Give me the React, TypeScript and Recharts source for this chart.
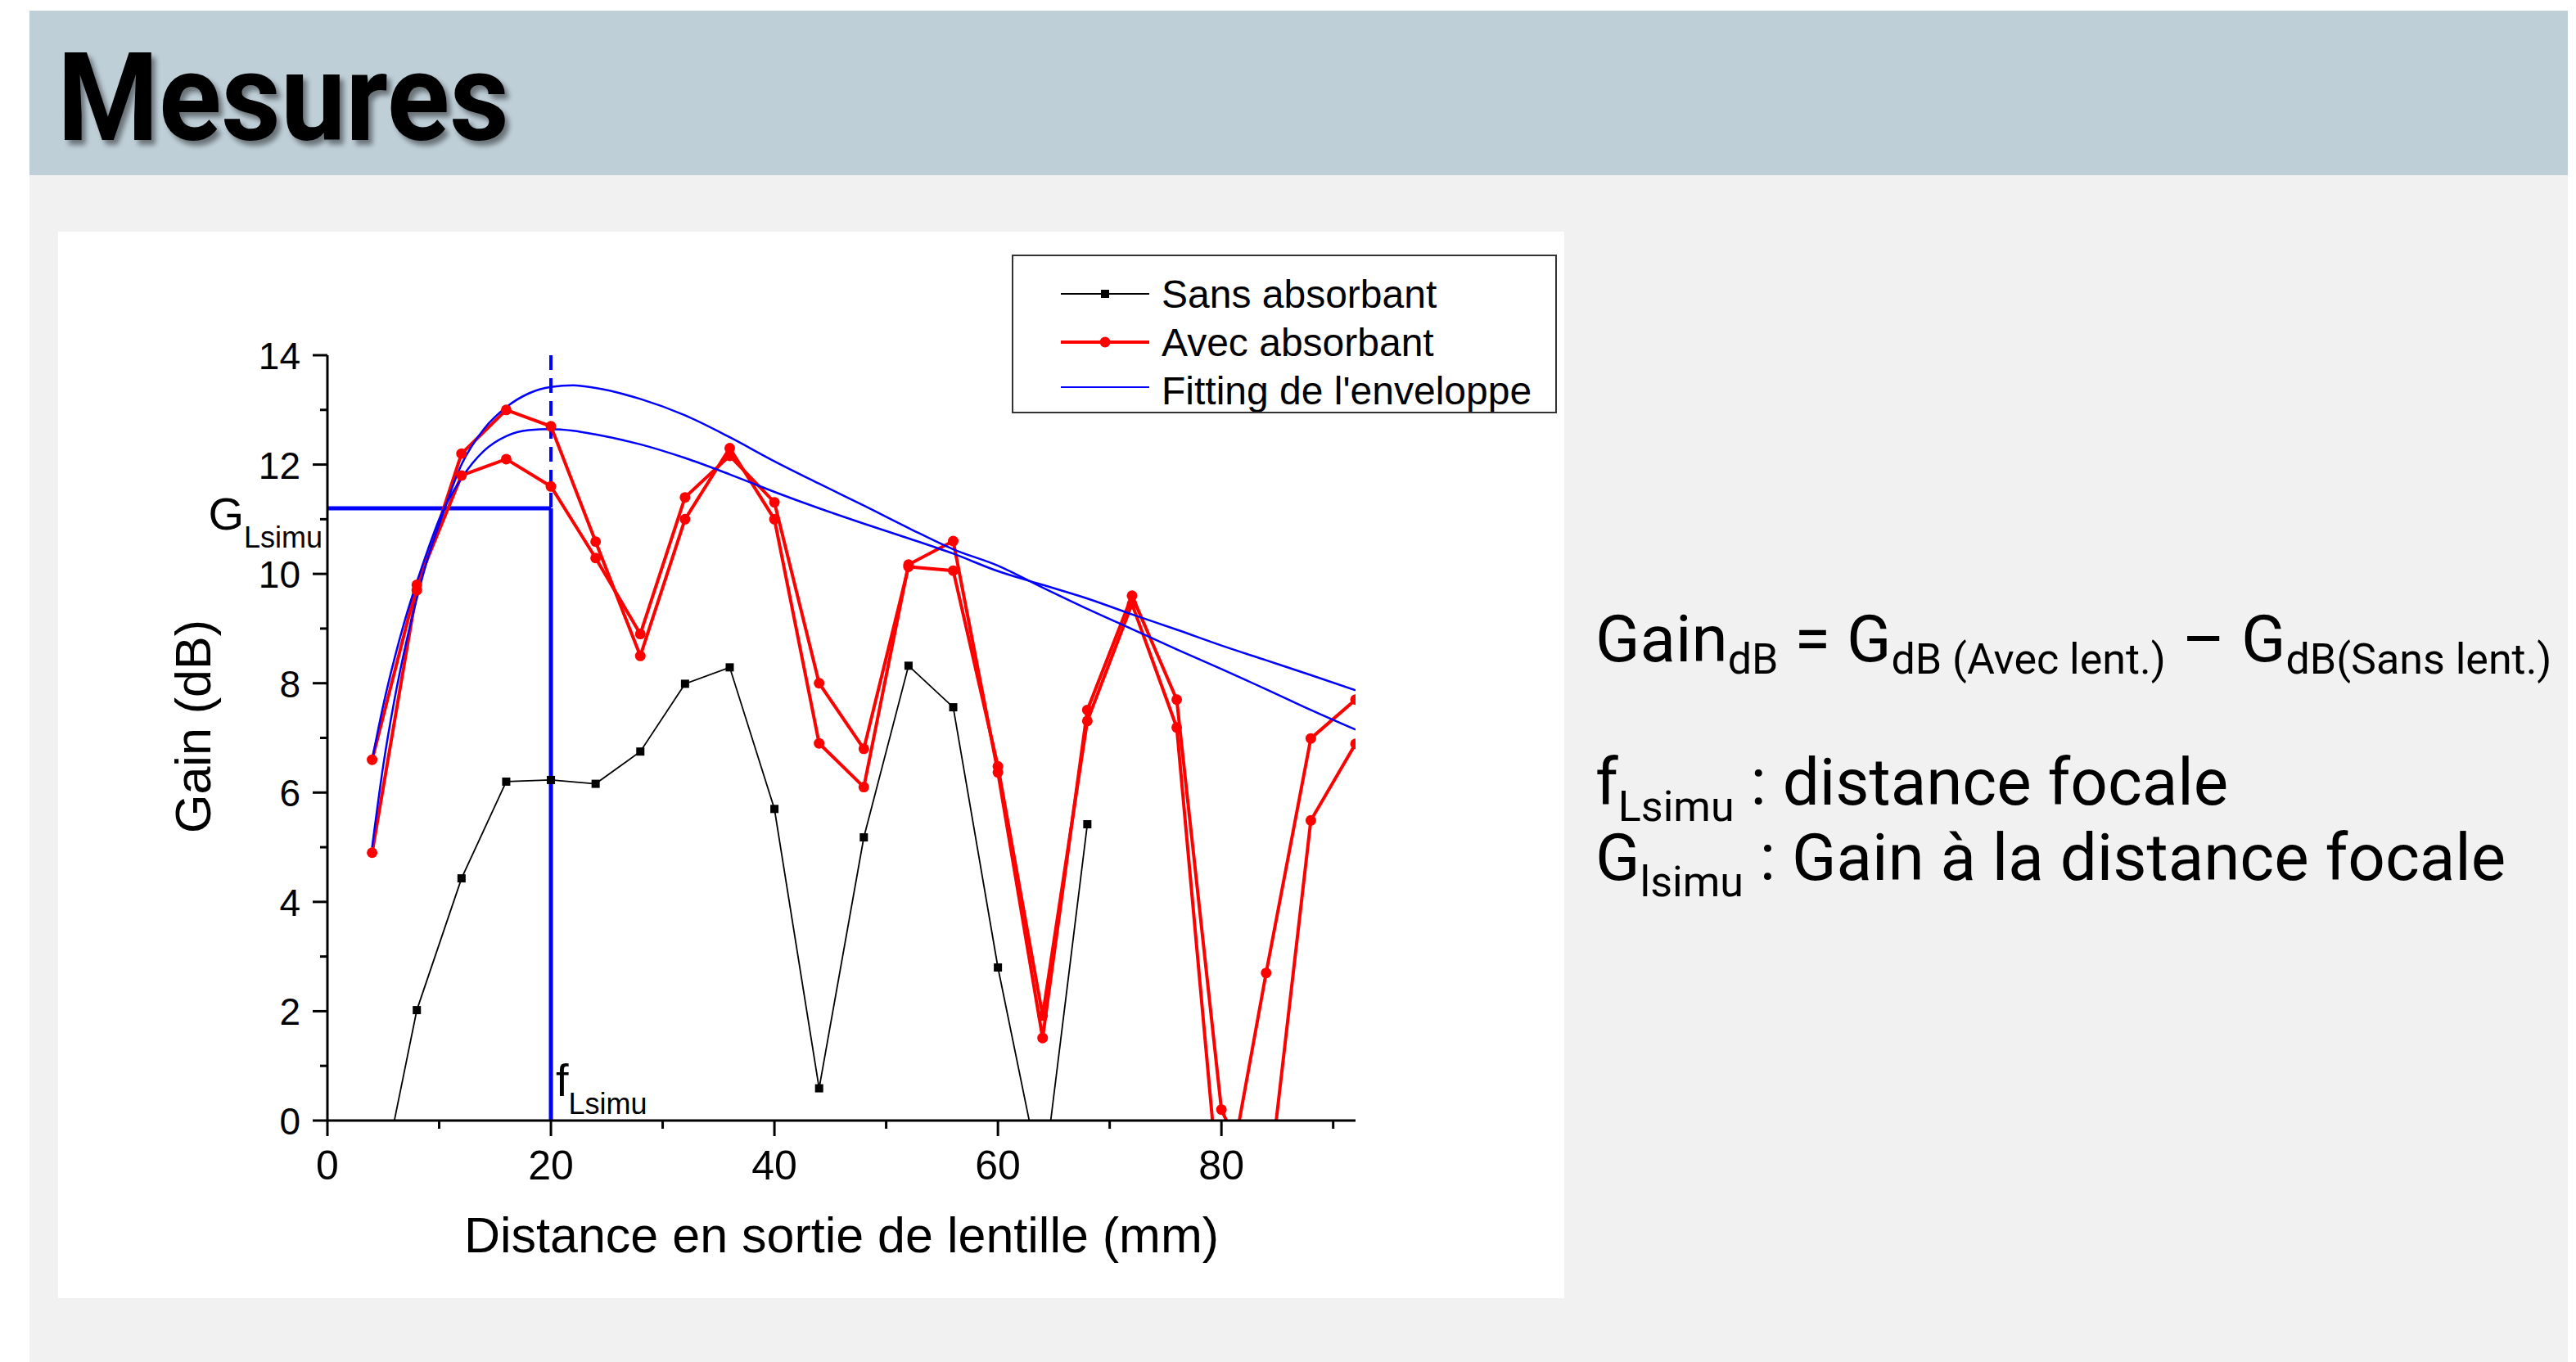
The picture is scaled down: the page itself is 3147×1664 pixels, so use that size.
import React from 'react';
import { LineChart, Line, XAxis, YAxis, ReferenceLine } from 'recharts';

// measured points (mm)
const distances = [4, 8, 12, 16, 20, 24, 28, 32, 36, 40, 44, 48, 52, 56, 60, 64, 68, 72, 76, 80, 84, 88, 92];
const sansAbsorbant = [-2.0, 2.02, 4.43, 6.2, 6.23, 6.16, 6.75, 7.99, 8.29, 5.7, 0.59, 5.18, 8.32, 7.56, 2.8, -1.2, 5.42, null, null, null, null, null, null];
const avecAbsorbant1 = [4.9, 9.7, 12.2, 13.0, 12.7, 10.59, 8.5, 11.0, 12.3, 11.0, 6.9, 6.1, 10.17, 10.6, 6.37, 1.51, 7.51, 9.6, 7.7, 0.2, -1.6, 5.49, 6.89];
const avecAbsorbant2 = [6.6, 9.8, 11.8, 12.1, 11.6, 10.29, 8.9, 11.4, 12.16, 11.31, 8.0, 6.8, 10.13, 10.06, 6.48, 1.92, 7.31, 9.45, 7.19, -1.8, 2.7, 6.99, 7.7];

// envelope fits
const fitDistances = [4, 5, 6, 7, 8, 9, 10, 12, 14, 16, 18, 20, 22, 24, 28, 32, 36, 40, 44, 48, 52, 56, 60, 64, 68, 72, 76, 80, 84, 88, 92];
const fitUpper = [5.0, 6.5, 7.7, 8.7, 9.55, 10.3, 10.9, 12.0, 12.65, 13.05, 13.3, 13.42, 13.45, 13.4, 13.2, 12.9, 12.5, 12.06, 11.65, 11.25, 10.84, 10.45, 10.15, 9.75, 9.36, 8.99, 8.62, 8.26, 7.89, 7.51, 7.15];
const fitLower = [6.6, 7.6, 8.45, 9.2, 9.85, 10.45, 11.0, 11.75, 12.25, 12.52, 12.63, 12.65, 12.62, 12.55, 12.37, 12.12, 11.82, 11.5, 11.2, 10.92, 10.65, 10.37, 10.05, 9.8, 9.55, 9.26, 8.98, 8.69, 8.42, 8.15, 7.87];

const xTicks = [0, 10, 20, 30, 40, 50, 60, 70, 80, 90];
const yTicks = [0, 1, 2, 3, 4, 5, 6, 7, 8, 9, 10, 11, 12, 13, 14];
const focalDistance = 20;
const focalGain = 11.2;

const legendItems = ['Sans absorbant', 'Avec absorbant', "Fitting de l'enveloppe"];

const allX = Array.from(new Set([...distances, ...fitDistances])).sort((a, b) => a - b);
const table = allX.map((x) => {
  const i = distances.indexOf(x);
  const j = fitDistances.indexOf(x);
  return {
    x,
    sans: i >= 0 ? sansAbsorbant[i] : null,
    avec1: i >= 0 ? avecAbsorbant1[i] : null,
    avec2: i >= 0 ? avecAbsorbant2[i] : null,
    fitU: j >= 0 ? fitUpper[j] : null,
    fitL: j >= 0 ? fitLower[j] : null,
  };
});

const FONT = '"Liberation Sans", Arial, sans-serif';
const RED = '#ff0000';
const BLUE = '#0000ff';

const square = (p: any) => {
  if (p.cx == null || p.cy == null || p.value == null) return <g key={p.key} />;
  return <rect key={p.key} x={p.cx - 5} y={p.cy - 5} width={10} height={10} fill="#000" />;
};

const circle = (p: any) => {
  if (p.cx == null || p.cy == null || p.value == null) return <g key={p.key} />;
  return <circle key={p.key} cx={p.cx} cy={p.cy} r={6.5} fill={RED} />;
};

const xTick = (p: any) => {
  const major = p.payload.value % 20 === 0;
  return (
    <g>
      <line x1={p.x} x2={p.x} y1={p.y} y2={p.y + (major ? 19 : 10)} stroke="#000" strokeWidth={3} />
      {major && (
        <text x={p.x} y={p.y + 72} textAnchor="middle" fontSize={50} fontFamily={FONT} fill="#000">
          {p.payload.value}
        </text>
      )}
    </g>
  );
};

const yTick = (p: any) => {
  const major = p.payload.value % 2 === 0;
  return (
    <g>
      <line x1={p.x - (major ? 18 : 9)} x2={p.x} y1={p.y} y2={p.y} stroke="#000" strokeWidth={3} />
      {major && (
        <text x={p.x - 33} y={p.y + 17} textAnchor="end" fontSize={46} fontFamily={FONT} fill="#000">
          {p.payload.value}
        </text>
      )}
    </g>
  );
};

const xLabel = (p: any) => {
  const { x, y, width } = p.viewBox;
  return (
    <text x={x + width / 2} y={y + 161} textAnchor="middle" fontSize={61} fontFamily={FONT} fill="#000">
      Distance en sortie de lentille (mm)
    </text>
  );
};

const yLabel = (p: any) => {
  const { x, y, width, height } = p.viewBox;
  const cx = x + width - 143;
  const cy = y + height / 2 - 14;
  return (
    <text x={cx} y={cy} textAnchor="middle" fontSize={61} fontFamily={FONT} fill="#000" transform={`rotate(-90, ${cx}, ${cy})`}>
      Gain (dB)
    </text>
  );
};

const gLabel = (p: any) => {
  const { x, y } = p.viewBox;
  return (
    <text x={x - 6} y={y + 26} textAnchor="end" fontFamily={FONT} fill="#000">
      <tspan fontSize={56}>G</tspan>
      <tspan fontSize={36} dy={22}>Lsimu</tspan>
    </text>
  );
};

const fLabel = (p: any) => {
  const { x, y, height } = p.viewBox;
  return (
    <text x={x + 6} y={y + height - 30} fontFamily={FONT} fill="#000">
      <tspan fontSize={56}>f</tspan>
      <tspan fontSize={36} dy={22}>Lsimu</tspan>
    </text>
  );
};

const LegendBox = () => (
  <div
    style={{
      position: 'absolute',
      left: 1165,
      top: 28,
      width: 666,
      height: 194,
      border: '2px solid #333',
      boxSizing: 'border-box',
      background: '#fff',
    }}
  >
    <svg width={662} height={190}>
      {legendItems.map((name, i) => {
        const y = 46 + i * 59;
        return (
          <g key={name}>
            {i === 0 && (
              <g>
                <line x1={58} x2={166} y1={y} y2={y} stroke="#000" strokeWidth={2} />
                <rect x={107} y={y - 5} width={10} height={10} fill="#000" />
              </g>
            )}
            {i === 1 && (
              <g>
                <line x1={58} x2={166} y1={y} y2={y} stroke={RED} strokeWidth={4} />
                <circle cx={112} cy={y} r={6.5} fill={RED} />
              </g>
            )}
            {i === 2 && <line x1={58} x2={166} y1={y - 4} y2={y - 4} stroke={BLUE} strokeWidth={2} />}
            <text x={181} y={y + 17} fontSize={48} fontFamily={FONT} fill="#000">
              {name}
            </text>
          </g>
        );
      })}
    </svg>
  </div>
);

export default function App() {
  return (
    <div style={{ position: 'absolute', left: 0, top: 0, width: 3147, height: 1664, background: '#fff', overflow: 'hidden' }}>
      <div style={{ position: 'absolute', left: 36, top: 13, width: 3101, height: 201, background: '#bfcfd8' }} />
      <div style={{ position: 'absolute', left: 36, top: 214, width: 3101, height: 1450, background: '#f1f1f1' }} />

      <div style={{ position: 'absolute', left: 71, top: 283, width: 1840, height: 1303, background: '#fff' }}>
        <LineChart width={1840} height={1303} data={table} margin={{ top: 151, right: 255, bottom: 157, left: 229 }}>
          <XAxis
            dataKey="x"
            type="number"
            domain={[0, 92]}
            ticks={xTicks}
            interval={0}
            height={60}
            tickSize={0}
            tickMargin={0}
            tickLine={false}
            axisLine={{ stroke: '#000', strokeWidth: 3 }}
            tick={xTick}
            allowDataOverflow
            label={xLabel}
          />
          <YAxis
            type="number"
            domain={[0, 14]}
            ticks={yTicks}
            interval={0}
            width={100}
            tickSize={0}
            tickMargin={0}
            tickLine={false}
            axisLine={{ stroke: '#000', strokeWidth: 3 }}
            tick={yTick}
            allowDataOverflow
            label={yLabel}
          />
          <ReferenceLine
            segment={[{ x: 0, y: focalGain }, { x: focalDistance, y: focalGain }]}
            stroke={BLUE}
            strokeWidth={5}
            label={gLabel}
          />
          <ReferenceLine
            segment={[{ x: focalDistance, y: 0 }, { x: focalDistance, y: focalGain }]}
            stroke={BLUE}
            strokeWidth={5}
            label={fLabel}
          />
          <ReferenceLine
            segment={[{ x: focalDistance, y: 14 }, { x: focalDistance, y: focalGain }]}
            stroke={BLUE}
            strokeWidth={4}
            strokeDasharray="18 10"
          />
          <Line dataKey="sans" stroke="#000" strokeWidth={1.8} dot={square} connectNulls isAnimationActive={false} />
          <Line dataKey="avec1" stroke={RED} strokeWidth={4} dot={circle} connectNulls isAnimationActive={false} />
          <Line dataKey="avec2" stroke={RED} strokeWidth={4} dot={circle} connectNulls isAnimationActive={false} />
          <Line dataKey="fitU" type="monotone" stroke={BLUE} strokeWidth={2.5} dot={false} connectNulls isAnimationActive={false} />
          <Line dataKey="fitL" type="monotone" stroke={BLUE} strokeWidth={2.5} dot={false} connectNulls isAnimationActive={false} />
        </LineChart>
        <LegendBox />
      </div>

      <svg width={3147} height={1664} style={{ position: 'absolute', left: 0, top: 0, pointerEvents: 'none' }}>
        <defs>
          <filter id="shadow" x="-10%" y="-10%" width="130%" height="140%">
            <feDropShadow dx={5} dy={6} stdDeviation={3} floodColor="#000" floodOpacity={0.45} />
          </filter>
        </defs>
        <text
          x={70}
          y={171}
          fontSize={150}
          fontWeight={700}
          fontFamily="Roboto, sans-serif"
          textLength={552}
          lengthAdjust="spacingAndGlyphs"
          filter="url(#shadow)"
          fill="#000"
        >
          Mesures
        </text>
        <g fontFamily="Roboto, sans-serif" fill="#000">
          <text x={1949} y={808} fontSize={80}>
            Gain
            <tspan fontSize={52} dy={15}>dB</tspan>
            <tspan dy={-15}>{' = G'}</tspan>
            <tspan fontSize={52} dy={15}>dB (Avec lent.)</tspan>
            <tspan dy={-15}>{' \u2013 G'}</tspan>
            <tspan fontSize={52} dy={15}>dB(Sans lent.)</tspan>
          </text>
          <text x={1949} y={983} fontSize={80}>
            f
            <tspan fontSize={52} dy={20}>Lsimu</tspan>
            <tspan dy={-20}>{' : distance focale'}</tspan>
          </text>
          <text x={1949} y={1075} fontSize={80}>
            G
            <tspan fontSize={52} dy={20}>lsimu</tspan>
            <tspan dy={-20}>{' : Gain \u00e0 la distance focale'}</tspan>
          </text>
        </g>
      </svg>
    </div>
  );
}
